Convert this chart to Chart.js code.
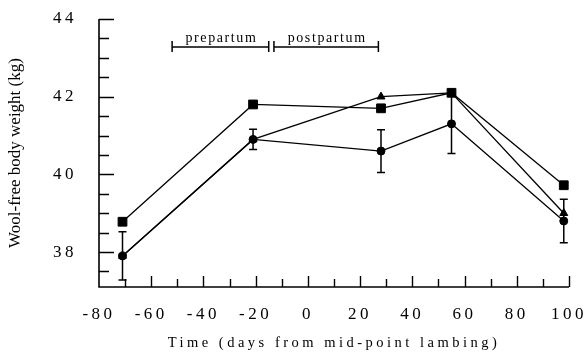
<!doctype html>
<html lang="en">
<head>
<meta charset="utf-8">
<title>Wool-free body weight</title>
<style>
  * { margin: 0; padding: 0; }
  body { background: #fff; }
</style>
</head>
<body>
<canvas id="myChart" width="585" height="352"></canvas>
<script src="https://cdn.jsdelivr.net/npm/chart.js/dist/chart.umd.min.js"></script>
<script>
// values
const days = [-71, -21, 28, 55, 98];
const circleWeight = [37.9, 40.9, 40.6, 41.3, 38.8];
const circleSE = [0.62, 0.26, 0.55, 0.76, 0.56];
const squareWeight = [38.78, 41.8, 41.7, 42.1, 39.72];
const triangleWeight = [37.9, 40.9, 42.0, 42.1, 39.0];

const xTicks = [-80, -60, -40, -20, 0, 20, 40, 60, 80, 100];
const yTicks = [38, 40, 42, 44];

const periodLabels = ['prepartum', 'postpartum'];
const periodStart = [-52, -13];
const periodEnd = [-15, 27];

const serif = "'Liberation Serif', 'DejaVu Serif', serif";

function points(ys) {
  return days.map((d, i) => ({ x: d, y: ys[i] }));
}

function series(ys, style, radius) {
  return {
    data: points(ys),
    borderColor: '#000',
    borderWidth: 1.3,
    pointStyle: style,
    pointRadius: radius,
    pointBackgroundColor: '#000',
    pointBorderColor: '#000',
    pointBorderWidth: 1,
    tension: 0
  };
}

// axes with inward ticks, error bars, period brackets
const figurePlugin = {
  id: 'figure',
  beforeDraw(chart) {
    chart.ctx.letterSpacing = '3.5px';
  },
  beforeDatasetsDraw(chart) {
    chart.ctx.letterSpacing = '0px';
  },
  afterDatasetsDraw(chart) {
    const ctx = chart.ctx;
    const x = chart.scales.x, y = chart.scales.y;
    ctx.save();
    ctx.strokeStyle = '#000';
    ctx.lineWidth = 1.5;
    days.forEach((d, i) => {
      const px = x.getPixelForValue(d);
      const top = y.getPixelForValue(circleWeight[i] + circleSE[i]);
      const bot = y.getPixelForValue(circleWeight[i] - circleSE[i]);
      ctx.beginPath();
      ctx.moveTo(px, top); ctx.lineTo(px, bot);
      ctx.moveTo(px - 4, top); ctx.lineTo(px + 4, top);
      ctx.moveTo(px - 4, bot); ctx.lineTo(px + 4, bot);
      ctx.stroke();
    });
    ctx.restore();
  },
  afterDraw(chart) {
    const ctx = chart.ctx;
    const a = chart.chartArea;
    const x = chart.scales.x, y = chart.scales.y;
    ctx.save();
    ctx.letterSpacing = '0px';
    ctx.strokeStyle = '#000';
    ctx.lineWidth = 1.6;
    ctx.beginPath();
    ctx.moveTo(a.left, a.top); ctx.lineTo(a.left, a.bottom); ctx.lineTo(a.right, a.bottom);
    ctx.stroke();

    ctx.lineWidth = 1.4;
    ctx.beginPath();
    for (let v = 37.5; v <= y.max + 0.01; v += 0.5) {
      const py = Math.round(y.getPixelForValue(v)) + 0.5;
      const len = yTicks.includes(v) ? 15 : 10;
      ctx.moveTo(a.left, py); ctx.lineTo(a.left + len, py);
    }
    for (let v = x.min + 10; v <= x.max + 0.01; v += 10) {
      const px = Math.round(x.getPixelForValue(v)) + 0.5;
      const len = xTicks.includes(v) ? 11 : 8;
      ctx.moveTo(px, a.bottom); ctx.lineTo(px, a.bottom - len);
    }
    ctx.stroke();

    // period brackets
    const by = a.top + 28;
    ctx.lineWidth = 1.5;
    ctx.font = '14px ' + serif;
    ctx.letterSpacing = '1.6px';
    ctx.fillStyle = '#000';
    ctx.textAlign = 'center';
    ctx.textBaseline = 'alphabetic';
    periodLabels.forEach((label, i) => {
      const x0 = x.getPixelForValue(periodStart[i]);
      const x1 = x.getPixelForValue(periodEnd[i]);
      ctx.beginPath();
      ctx.moveTo(x0, by); ctx.lineTo(x1, by);
      ctx.moveTo(x0, by - 6); ctx.lineTo(x0, by + 5);
      ctx.moveTo(x1, by - 6); ctx.lineTo(x1, by + 5);
      ctx.stroke();
      ctx.fillText(label, (x0 + x1) / 2 + 1, by - 5);
    });

    // y axis title
    ctx.letterSpacing = '0px';
    ctx.font = '17px ' + serif;
    ctx.translate(16, (a.top + a.bottom) / 2);
    ctx.rotate(-Math.PI / 2);
    ctx.textBaseline = 'middle';
    ctx.fillText('Wool-free body weight (kg)', 0, 0);
    ctx.restore();
  }
};

const config = {
  type: 'line',
  data: {
    datasets: [
      series(circleWeight, 'circle', 4),
      series(squareWeight, 'rect', 6.2),
      series(triangleWeight, 'triangle', 4.6)
    ]
  },
  options: {
    responsive: false,
    devicePixelRatio: 1,
    animation: false,
    layout: { padding: { top: 19, right: 16, left: 0, bottom: 0 } },
    plugins: { legend: { display: false }, tooltip: { enabled: false } },
    scales: {
      x: {
        type: 'linear',
        min: -80,
        max: 100,
        afterBuildTicks: s => { s.ticks = xTicks.map(v => ({ value: v })); },
        afterFit: s => {
          s.height = 65;
          s.paddingLeft = 0;
          s.paddingRight = 0;
        },
        grid: { display: false, drawTicks: false },
        border: { display: false },
        ticks: {
          color: '#000',
          font: { family: serif, size: 17 },
          padding: 17,
          maxRotation: 0,
          autoSkip: false
        },
        title: {
          display: true,
          text: 'Time (days from mid-point lambing)',
          color: '#000',
          font: { family: serif, size: 14.5 },
          padding: 0
        }
      },
      y: {
        type: 'linear',
        min: 37.1,
        max: 44,
        afterBuildTicks: s => { s.ticks = yTicks.map(v => ({ value: v })); },
        afterFit: s => {
          s.width = 99;
          s.paddingTop = 0;
          s.paddingBottom = 0;
        },
        grid: { display: false, drawTicks: false },
        border: { display: false },
        ticks: {
          color: '#000',
          font: { family: serif, size: 17 },
          padding: 22
        }
      }
    }
  },
  plugins: [figurePlugin]
};

const ctx = document.getElementById('myChart');
const myChart = new Chart(ctx, config);
</script>
</body>
</html>
